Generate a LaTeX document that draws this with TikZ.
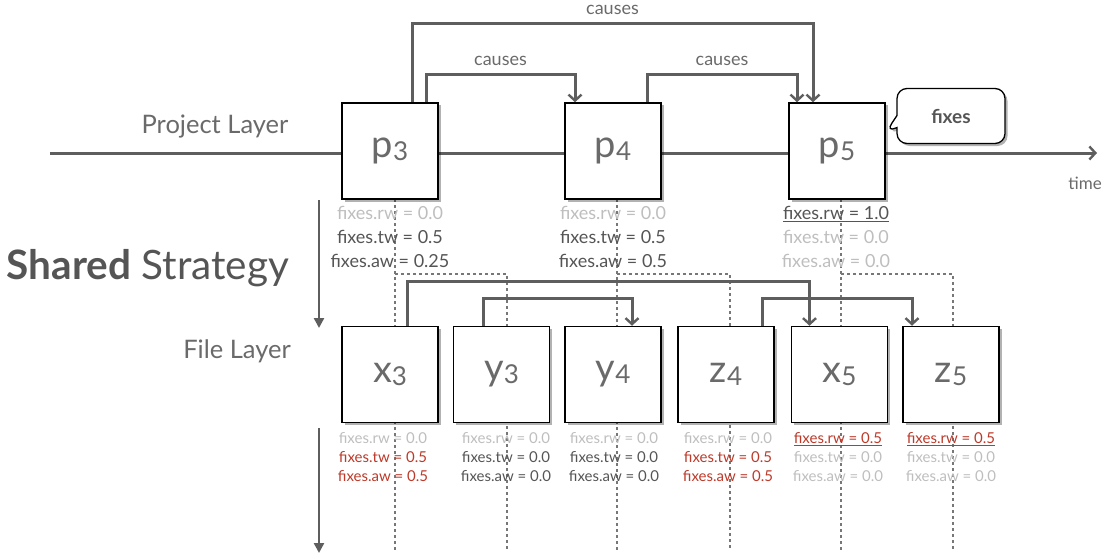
\documentclass[tikz,border=0pt]{standalone}
\usepackage{fontspec}
\setmainfont{Lato}
\usetikzlibrary{arrows.meta,shadows,shapes.callouts,backgrounds}

\definecolor{linegray}{HTML}{5E5E5E}
\definecolor{inkgray}{HTML}{555555}
\definecolor{softgray}{HTML}{6A6A6A}
\definecolor{fadegray}{HTML}{BEBEBE}
\definecolor{dotgray}{HTML}{777777}
\definecolor{fixred}{HTML}{BC3A2A}

% box caption: letter plus smaller index digit
\newcommand{\evname}[2]{#1\raisebox{-3pt}{\fontsize{26}{26}\selectfont #2}}
% one line of the fixes values
\newcommand{\fv}[2]{\textcolor{#1}{#2}}

\begin{document}
\begin{tikzpicture}[x=1pt,y=-1pt,
    event/.style={draw=black, line width=1.5pt, fill=white, text=softgray,
      minimum width=96pt, minimum height=96pt, inner sep=0pt,
      font=\fontsize{38}{40}\selectfont,
      drop shadow={shadow xshift=2.5pt, shadow yshift=-2.5pt, opacity=0.3, fill=black}},
    link/.style={draw=linegray, line width=3pt,
      -{Straight Barb[length=6pt,width=13pt,line width=2.4pt]}},
    cause/.style={above, text=softgray, inner sep=3pt, yshift=4pt, font=\fontsize{18}{20}\selectfont},
    axis/.style={draw=linegray, line width=3pt,
      -{Straight Barb[length=6pt,width=13pt,line width=2.4pt]}},
    descent/.style={draw=linegray, line width=2.4pt, -{Triangle[length=10pt,width=10pt]}},
    guide/.style={draw=dotgray, line width=2.6pt, dash pattern=on 2.6pt off 3.4pt},
    pinfo/.style={align=center, inner sep=0pt, font=\fontsize{18}{24}\selectfont},
    finfo/.style={align=center, inner sep=0pt, font=\fontsize{15}{19}\selectfont},
    layer/.style={text=softgray, inner sep=0pt, font=\fontsize{25.5}{28}\selectfont},
    bubble/.style={rectangle callout, draw=black, line width=1.3pt, fill=white,
      rounded corners=10pt, minimum width=108pt, minimum height=55pt,
      callout pointer width=12pt, text=inkgray, font=\fontsize{19}{20}\selectfont\bfseries,
      drop shadow={shadow xshift=2.5pt, shadow yshift=-2.5pt, opacity=0.3, fill=black}}]
\useasboundingbox (0,0) rectangle (1113,559);

% layer names
\node[layer] (projlayer) at (215,127) {Project Layer};
\node[layer] (filelayer) at (237,351) {File Layer};
\node[text=inkgray, inner sep=0pt, font=\fontsize{40.5}{42}\selectfont] (strategy) at (148,268)
  {\textbf{Shared} Strategy};
\node[text=softgray, inner sep=0pt, font=\fontsize{17}{20}\selectfont] (timelbl) at (1085,183) {time};

% project events
\node[event] (p3) at (390,151) {\evname{p}{3}};
\node[event] (p4) at (613,151) {\evname{p}{4}};
\node[event] (p5) at (837,151) {\evname{p}{5}};

% file events
\node[event] (x3) at (390,374.5) {\evname{x}{3}};
\node[event] (y3) at (501.5,374.5) {\evname{y}{3}};
\node[event] (y4) at (613,374.5) {\evname{y}{4}};
\node[event] (z4) at (726,374.5) {\evname{z}{4}};
\node[event] (x5) at (839.5,374.5) {\evname{x}{5}};
\node[event] (z5) at (951,374.5) {\evname{z}{5}};

% time axis and guides behind the boxes
\coordinate (tstart) at (50,153);
\coordinate (tend) at (1097,153);
\begin{scope}[on background layer]
  \draw[axis] (tstart) -- (tend);
  \foreach \a/\b in {395/507, 617/730, 841/953} {
    \draw[guide] (\a,199) -- (\a,550);
    \draw[guide] (\a,274) -- (\b,274) -- (\b,550);
  }
\end{scope}

% causes between project events
\draw[link] ([xshift=22pt]p3.north) -- ++(0,-79) -| node[cause, pos=0.25] {causes} ([xshift=-24pt]p5.north);
\draw[link] ([xshift=36pt]p3.north) -- ++(0,-28) -| node[cause, pos=0.25] {causes} ([xshift=-38pt]p4.north);
\draw[link] ([xshift=34pt]p4.north) -- ++(0,-28) -| node[cause, pos=0.25] {causes} ([xshift=-40pt]p5.north);

% causes between file events
\draw[link] ([xshift=17pt]x3.north) -- ++(0,-44) -| ([xshift=-30pt]x5.north);
\draw[link] ([xshift=-18pt]y3.north) -- ++(0,-27) -| ([xshift=19pt]y4.north);
\draw[link] ([xshift=36pt]z4.north) -- ++(0,-27) -| ([xshift=-39pt]z5.north);

% strategy direction
\coordinate (d1) at (319,200);
\coordinate (d2) at (319,328);
\coordinate (d3) at (319,428);
\coordinate (d4) at (319,553);
\draw[descent] (d1) -- (d2);
\draw[descent] (d3) -- (d4);

% note
\coordinate (notetip) at (886,132);
\node[bubble, callout absolute pointer=(notetip)] (fixnote) at (951,116) {fixes};

% project values
\node[pinfo] (p3info) at (390,237) {\fv{fadegray}{fixes.rw = 0.0}\\ \fv{inkgray}{fixes.tw = 0.5}\\ \fv{inkgray}{fixes.aw = 0.25}};
\node[pinfo] (p4info) at (613,237) {\fv{fadegray}{fixes.rw = 0.0}\\ \fv{inkgray}{fixes.tw = 0.5}\\ \fv{inkgray}{fixes.aw = 0.5}};
\node[pinfo] (p5info) at (836,237) {\fv{inkgray}{\underline{fixes.rw = 1.0}}\\ \fv{fadegray}{fixes.tw = 0.0}\\ \fv{fadegray}{fixes.aw = 0.0}};

% file values
\node[finfo] (x3info) at (383,457) {\fv{fadegray}{fixes.rw = 0.0}\\ \fv{fixred}{fixes.tw = 0.5}\\ \fv{fixred}{fixes.aw = 0.5}};
\node[finfo] (y3info) at (506,457) {\fv{fadegray}{fixes.rw = 0.0}\\ \fv{inkgray}{fixes.tw = 0.0}\\ \fv{inkgray}{fixes.aw = 0.0}};
\node[finfo] (y4info) at (614,457) {\fv{fadegray}{fixes.rw = 0.0}\\ \fv{inkgray}{fixes.tw = 0.0}\\ \fv{inkgray}{fixes.aw = 0.0}};
\node[finfo] (z4info) at (728,457) {\fv{fadegray}{fixes.rw = 0.0}\\ \fv{fixred}{fixes.tw = 0.5}\\ \fv{fixred}{fixes.aw = 0.5}};
\node[finfo] (x5info) at (838,457) {\fv{fixred}{\underline{fixes.rw = 0.5}}\\ \fv{fadegray}{fixes.tw = 0.0}\\ \fv{fadegray}{fixes.aw = 0.0}};
\node[finfo] (z5info) at (951,457) {\fv{fixred}{\underline{fixes.rw = 0.5}}\\ \fv{fadegray}{fixes.tw = 0.0}\\ \fv{fadegray}{fixes.aw = 0.0}};
\end{tikzpicture}
\end{document}
